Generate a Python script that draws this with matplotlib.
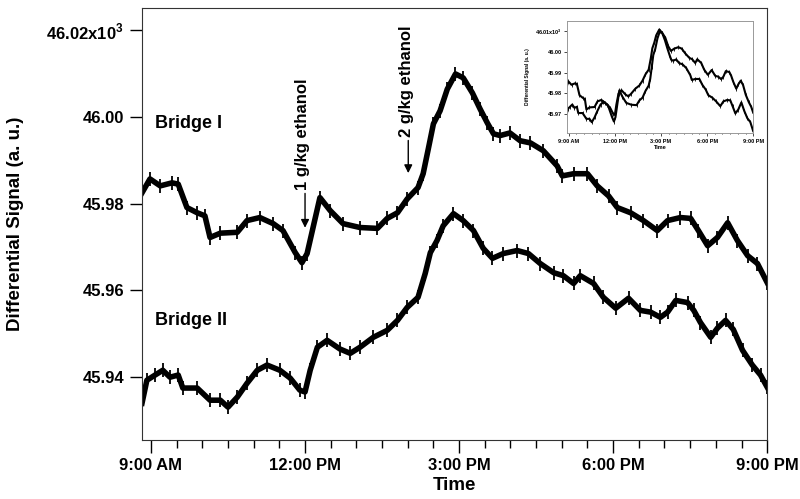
import matplotlib
matplotlib.use('Agg')
import matplotlib.pyplot as plt

plt.rcParams['font.family'] = ['Liberation Sans', 'DejaVu Sans']
plt.rcParams['font.weight'] = 'bold'
plt.rcParams['mathtext.fontset'] = 'custom'
plt.rcParams['mathtext.rm'] = 'Liberation Sans:bold'

# Bridge I (hours of day, signal in 10^3 a.u.)
hours_1 = [8.825, 8.98, 9.18, 9.41, 9.53, 9.70, 9.90, 10.05, 10.15, 10.35, 10.68, 10.87,
           11.12, 11.38, 11.57, 11.81, 11.94, 12.04, 12.29, 12.49, 12.74, 13.07, 13.41, 13.60,
           13.80, 13.99, 14.20, 14.30, 14.40, 14.50, 14.63, 14.77, 14.93, 15.08, 15.26, 15.41,
           15.55, 15.67, 15.80, 15.99, 16.19, 16.39, 16.64, 16.91, 17.01, 17.23, 17.50, 17.69,
           17.91, 18.08, 18.34, 18.59, 18.86, 19.06, 19.31, 19.51, 19.66, 19.84, 20.03, 20.23,
           20.42, 20.62, 20.81, 21.0]
bridge_1 = [45.9825, 45.9857, 45.9841, 45.9848, 45.9845, 45.9791, 45.9779, 45.9772, 45.9722,
            45.9732, 45.9734, 45.9761, 45.9768, 45.9754, 45.9738, 45.9687, 45.9664, 45.9685,
            45.9814, 45.9784, 45.9754, 45.9745, 45.9743, 45.9766, 45.9779, 45.9811, 45.9837,
            45.9869, 45.9926, 45.9984, 46.0014, 46.0064, 46.0099, 46.0090, 46.0055, 46.0018,
            45.9986, 45.9961, 45.9957, 45.9963, 45.9945, 45.9940, 45.9922, 45.9887, 45.9864,
            45.9869, 45.9869, 45.9841, 45.9818, 45.9791, 45.9779, 45.9761, 45.9738, 45.9761,
            45.9768, 45.9766, 45.9738, 45.9703, 45.9722, 45.9756, 45.9715, 45.9680, 45.9662,
            45.9618]

# Bridge II
hours_2 = [8.825, 8.92, 9.08, 9.23, 9.37, 9.53, 9.62, 9.90, 10.15, 10.35, 10.50, 10.68, 10.87,
           11.07, 11.26, 11.51, 11.71, 11.90, 12.00, 12.10, 12.24, 12.43, 12.68, 12.88, 13.07,
           13.33, 13.60, 13.80, 13.99, 14.20, 14.34, 14.44, 14.57, 14.69, 14.89, 15.08, 15.28,
           15.47, 15.65, 15.86, 16.13, 16.35, 16.58, 16.84, 17.03, 17.23, 17.36, 17.62, 17.81,
           18.05, 18.30, 18.53, 18.73, 18.92, 19.06, 19.22, 19.45, 19.57, 19.70, 19.90, 20.03,
           20.19, 20.34, 20.52, 20.71, 20.87, 21.0]
bridge_2 = [45.9340, 45.9393, 45.9405, 45.9416, 45.9400, 45.9405, 45.9375, 45.9375, 45.9347,
            45.9347, 45.9331, 45.9354, 45.9386, 45.9416, 45.9428, 45.9416, 45.9398, 45.9370,
            45.9366, 45.9416, 45.9469, 45.9485, 45.9465, 45.9455, 45.9469, 45.9492, 45.9508,
            45.9531, 45.9561, 45.9584, 45.9639, 45.9687, 45.9715, 45.9749, 45.9777, 45.9761,
            45.9738, 45.9697, 45.9674, 45.9685, 45.9692, 45.9685, 45.9662, 45.9641, 45.9634,
            45.9616, 45.9634, 45.9616, 45.9584, 45.9559, 45.9582, 45.9554, 45.9550, 45.9538,
            45.9550, 45.9577, 45.9572, 45.9554, 45.9526, 45.9492, 45.9513, 45.9531, 45.9510,
            45.9462, 45.9428, 45.9405, 45.9377]

# inset shows bridge II shifted onto bridge I
inset_offset = 0.033

time_ticks = [9, 12, 15, 18, 21]
time_labels = ['9:00 AM', '12:00 PM', '3:00 PM', '6:00 PM', '9:00 PM']
y_ticks = [45.94, 45.96, 45.98, 46.00, 46.02]
y_labels = ['45.94', '45.96', '45.98', '46.00', '46.02x10$^{3}$']
inset_y_ticks = [45.97, 45.98, 45.99, 46.00, 46.01]
inset_y_labels = ['45.97', '45.98', '45.99', '46.00', '46.01x10$^{3}$']
minor_ticks = [t + 0.5 * k for t in range(9, 21) for k in (0, 1) if (t + 0.5 * k) % 3 != 0]

fig = plt.figure(figsize=(8, 4.99), dpi=100)
ax = fig.add_axes([0.1775, 0.118, 0.7815, 0.866])

ax.plot(hours_1, bridge_1, color='black', lw=4, marker='|', ms=10, mew=1.3)
ax.plot(hours_2, bridge_2, color='black', lw=4, marker='|', ms=10, mew=1.3)

ax.set_xlim(8.825, 21.0)
ax.set_ylim(45.9255, 46.0251)
ax.set_xticks(time_ticks)
ax.set_xticklabels(time_labels)
ax.set_xticks(minor_ticks, minor=True)
ax.set_yticks(y_ticks)
ax.set_yticklabels(y_labels)
ax.tick_params(axis='both', which='major', direction='out', length=9, width=1, labelsize=12, pad=4)
ax.tick_params(axis='x', which='minor', direction='out', length=6, width=1)
for s in ax.spines.values():
    s.set_color('#333333')
ax.set_xlabel('Time', fontsize=13.5, fontweight='bold', labelpad=3)
ax.set_ylabel('Differential Signal (a. u.)', fontsize=13.5, fontweight='bold', labelpad=16)

ax.text(9.08, 45.9984, 'Bridge I', fontsize=13, fontweight='bold', va='center')
ax.text(9.08, 45.9531, 'Bridge II', fontsize=13, fontweight='bold', va='center')

ax.annotate('', xy=(12.0, 45.9738), xytext=(12.0, 45.9830),
            arrowprops=dict(arrowstyle='-|>', color='black', lw=1, mutation_scale=12))
ax.text(11.95, 45.9961, '1 g/kg ethanol', rotation=90, fontsize=12, fontweight='bold',
        ha='center', va='center')
ax.annotate('', xy=(14.01, 45.9864), xytext=(14.01, 45.9952),
            arrowprops=dict(arrowstyle='-|>', color='black', lw=1, mutation_scale=12))
ax.text(13.98, 46.0083, '2 g/kg ethanol', rotation=90, fontsize=12, fontweight='bold',
        ha='center', va='center')

# inset
ins = fig.add_axes([0.709, 0.7335, 0.2325, 0.2244])
ins.plot(hours_1, bridge_1, color='black', lw=1.5, marker='|', ms=3.5, mew=0.6)
ins.plot(hours_2, [v + inset_offset for v in bridge_2], color='black', lw=1.5,
         marker='|', ms=3.5, mew=0.6)
ins.set_xlim(8.9, 21.0)
ins.set_ylim(45.9609, 46.0148)
ins.set_xticks(time_ticks)
ins.set_xticklabels(time_labels)
ins.set_xticks(minor_ticks, minor=True)
ins.set_yticks(inset_y_ticks)
ins.set_yticklabels(inset_y_labels)
ins.tick_params(axis='both', which='major', direction='out', length=2, width=0.5, labelsize=4, pad=2)
ins.tick_params(axis='x', which='minor', direction='out', length=1, width=0.5)
for s in ins.spines.values():
    s.set_color('#999999')
    s.set_linewidth(0.7)
ins.set_xlabel('Time', fontsize=4, fontweight='bold', labelpad=1)
ins.set_ylabel('Differential Signal (a. u.)', fontsize=3.5, fontweight='bold', labelpad=3)

fig.savefig('out.png', dpi=100)
